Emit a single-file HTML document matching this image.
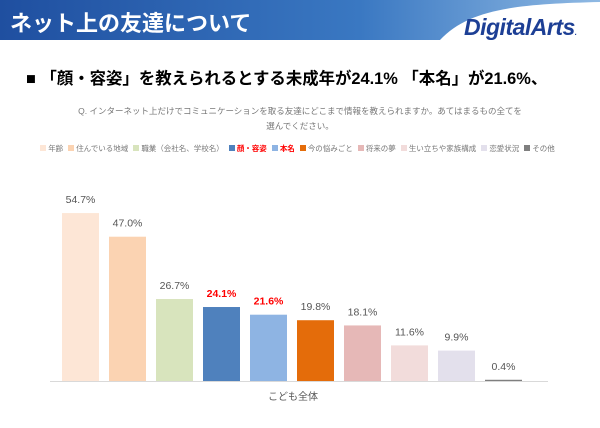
<!DOCTYPE html>
<html><head><meta charset="utf-8">
<style>
body{margin:0;width:600px;height:428px;overflow:hidden;background:#fff;font-family:"Liberation Sans","Noto Sans CJK JP",sans-serif;}
#root{position:relative;width:600px;height:428px;}
.abs{position:absolute;}
</style></head><body>
<div id="root">
<svg class="abs" style="left:0;top:0" width="600" height="428">
<defs><linearGradient id="hg" x1="0" x2="1" y1="0" y2="0"><stop offset="0" stop-color="#1f4fa0"/><stop offset="0.6" stop-color="#3a78c2"/><stop offset="1" stop-color="#8fb9e3"/></linearGradient></defs>
<path d="M0 0 H600 V2 C520 4 470 8 440 40 H0 Z" fill="url(#hg)"/>
</svg>
<div class="abs" style="left:10px;top:6px;color:#fff;font-size:22px;font-weight:bold;">ネット上の友達について</div>
<div class="abs" style="left:464px;top:14px;color:#1d3f95;font-size:23px;font-weight:bold;font-style:italic;letter-spacing:-0.5px;">DigitalArts<span style="font-size:8px">.</span></div>
<div class="abs" style="left:26px;top:65px;font-size:16.4px;font-weight:bold;color:#000;white-space:nowrap;">■ 「顔・容姿」を教えられるとする未成年が24.1% 「本名」が21.6%、</div>
<div class="abs" style="left:70px;top:104px;width:460px;text-align:center;font-size:8.5px;line-height:15px;color:#777;">Q. インターネット上だけでコミュニケーションを取る友達にどこまで情報を教えられますか。あてはまるもの全てを<br>選んでください。</div>
<div class="abs" id="legend" style="left:40px;top:143px;width:520px;text-align:center;font-size:7.5px;color:#777;white-space:nowrap;"></div>
<svg class="abs" id="chart" style="left:0;top:0" width="600" height="428"></svg>
</div>
<script>
const categories=["年齢","住んでいる地域","職業（会社名、学校名）","顔・容姿","本名","今の悩みごと","将来の夢","生い立ちや家族構成","恋愛状況","その他"];
const values=[54.7,47.0,26.7,24.1,21.6,19.8,18.1,11.6,9.9,0.4];
const valueLabels=["54.7%","47.0%","26.7%","24.1%","21.6%","19.8%","18.1%","11.6%","9.9%","0.4%"];
const colors=["#fde6d6","#fbd3b2","#d8e4bd","#4f81bd","#8eb4e3","#e46c0a","#e6b8b7","#f2dcdb","#e3e0ec","#7f7f7f"];
const highlight=[false,false,false,true,true,false,false,false,false,false];
const NS="http://www.w3.org/2000/svg";
const svg=document.getElementById('chart');
const baseY=381, scale=3.07, x0=62, step=47, bw=37;
function yOf(v){return baseY-v*scale;}
function xOf(i){return x0+i*step;}
values.forEach((v,i)=>{
  const r=document.createElementNS(NS,'rect');
  r.setAttribute('x',xOf(i));r.setAttribute('y',yOf(v));r.setAttribute('width',bw);r.setAttribute('height',v*scale);r.setAttribute('fill',colors[i]);
  
  
  svg.appendChild(r);
  const t=document.createElementNS(NS,'text');
  t.setAttribute('x',xOf(i)+bw/2);t.setAttribute('y',yOf(v)-10);t.setAttribute('text-anchor','middle');
  t.setAttribute('font-size','10.5');t.setAttribute('fill',highlight[i]?'#ff0000':'#555');
  if(highlight[i])t.setAttribute('font-weight','bold');
  t.textContent=valueLabels[i];
  
  
  svg.appendChild(t);
});
const ax=document.createElementNS(NS,'line');
ax.setAttribute('x1',50);ax.setAttribute('x2',548);ax.setAttribute('y1',baseY+0.5);ax.setAttribute('y2',baseY+0.5);ax.setAttribute('stroke','#d9d9d9');


svg.appendChild(ax);
const xl=document.createElementNS(NS,'text');
xl.setAttribute('x',293);xl.setAttribute('y',400);xl.setAttribute('text-anchor','middle');xl.setAttribute('font-size','10');xl.setAttribute('fill','#555');
xl.textContent='こども全体';


svg.appendChild(xl);
const lg=document.getElementById('legend');
categories.forEach((c,i)=>{
  const s=document.createElement('span');
  s.style.marginRight='5px';
  s.innerHTML='<span style="display:inline-block;width:6px;height:6px;background:'+colors[i]+';margin-right:2px;"></span>'+c;
  if(highlight[i]){s.style.color='#ff0000';s.style.fontWeight='bold';}
  
  
  lg.appendChild(s);
});
</script>
</body></html>
